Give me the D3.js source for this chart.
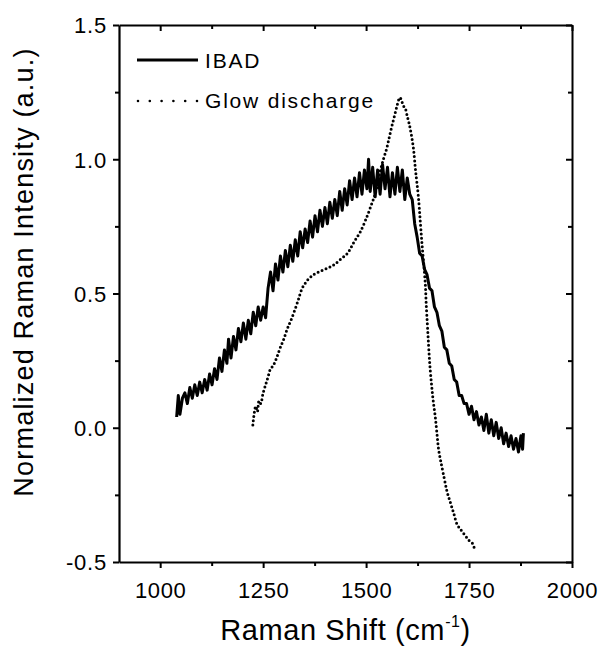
<!DOCTYPE html>
<html><head><meta charset="utf-8">
<script src="https://cdn.jsdelivr.net/npm/d3@7"></script>
<style>
body{margin:0;background:#fff;}
svg{display:block;font-family:"Liberation Sans",Arial,sans-serif;}
</style></head>
<body>
<svg id="chart" width="600" height="646"></svg>
<script>
const ibadX = [1040,1044,1048,1054,1060,1066,1072,1078,1084,1090,1096,1102,1108,1114,1120,1126,1132,1138,1144,1150,1156,1162,1166,1172,1178,1184,1190,1196,1202,1208,1214,1220,1226,1232,1238,1244,1250,1256,1262,1268,1274,1280,1286,1292,1298,1304,1310,1316,1322,1328,1334,1340,1346,1352,1358,1364,1370,1376,1382,1388,1394,1400,1406,1412,1418,1424,1430,1436,1442,1448,1454,1460,1466,1472,1478,1484,1490,1496,1502,1506,1510,1516,1522,1528,1534,1540,1546,1552,1558,1564,1570,1576,1582,1588,1594,1600,1606,1612,1618,1624,1630,1636,1642,1648,1654,1660,1666,1672,1678,1684,1690,1696,1702,1708,1714,1720,1726,1732,1738,1744,1750,1756,1762,1768,1774,1780,1786,1792,1798,1804,1810,1816,1822,1828,1834,1840,1846,1852,1858,1864,1870,1876,1880,1882];
const ibadY = [0.04,0.12,0.05,0.11,0.13,0.09,0.15,0.11,0.16,0.12,
0.17,0.13,0.18,0.14,0.20,0.16,0.22,0.18,0.26,0.21,
0.29,0.24,0.33,0.26,0.34,0.29,0.37,0.32,0.39,0.33,
0.40,0.35,0.43,0.38,0.45,0.40,0.45,0.41,0.52,0.58,
0.51,0.61,0.55,0.64,0.58,0.66,0.60,0.68,0.62,0.70,
0.64,0.73,0.67,0.74,0.69,0.77,0.71,0.79,0.73,0.81,
0.75,0.82,0.76,0.84,0.78,0.85,0.79,0.88,0.81,0.89,
0.83,0.92,0.85,0.93,0.86,0.95,0.87,0.96,0.89,1.00,
0.88,0.97,0.86,0.96,0.87,0.98,0.89,0.97,0.86,0.95,
0.87,0.97,0.88,0.96,0.85,0.93,0.87,0.85,
0.76,0.71,0.65,0.64,0.59,0.57,0.52,0.51,0.45,0.43,
0.38,0.36,0.30,0.29,0.24,0.23,0.18,0.17,0.12,0.12,
0.09,0.09,0.05,0.08,0.03,0.06,0.01,0.04,-0.01,0.05,
-0.02,0.03,-0.03,0.02,-0.04,0.00,-0.06,-0.02,-0.07,-0.03,
-0.08,-0.04,-0.09,-0.03,-0.08,-0.02];
const glowX = [1225,1228,1232,1236,1240,1244,1250,1256,1262,1268,1274,1280,1285,1292,1300,1309,1320,1334,1345,1358,1372,1385,1400,1414,1425,1440,1455,1470,1486,1503,1515,1522,1528,1535,1542,1550,1556,1562,1567,1572,1577,1582,1586,1590,1595,1600,1605,1610,1615,1620,1627,1632,1636,1640,1644,1646,1649,1652,1655,1659,1663,1668,1672,1676,1682,1690,1697,1705,1713,1721,1730,1740,1750,1758,1763];
const glowY = [0.01,0.05,0.08,0.06,0.10,0.09,0.13,0.16,0.19,0.22,0.23,0.25,0.27,0.30,0.33,0.37,0.41,0.47,0.52,0.55,0.57,0.58,0.59,0.60,0.61,0.63,0.65,0.69,0.73,0.79,0.84,0.87,0.91,0.96,1.00,1.04,1.08,1.12,1.15,1.18,1.21,1.23,1.22,1.20,1.19,1.16,1.13,1.09,1.04,0.96,0.86,0.76,0.68,0.61,0.53,0.46,0.38,0.30,0.23,0.16,0.10,0.04,-0.02,-0.08,-0.13,-0.19,-0.24,-0.28,-0.32,-0.36,-0.38,-0.40,-0.42,-0.43,-0.45];
const xMajor = [1000,1250,1500,1750,2000];
const xMinor = [1125,1375,1625,1875];
const yMajor = [-0.5,0.0,0.5,1.0,1.5];
const yMinor = [-0.25,0.25,0.75,1.25];
const seriesNames = ["IBAD","Glow discharge"];
const xTitle = "Raman Shift (cm";
const xTitleSup = "-1";
const yTitle = "Normalized Raman Intensity (a.u.)";

const svg = d3.select("#chart");
const L = 119, R = 572, T = 25, B = 562;
const x = d3.scaleLinear().domain([900,2000]).range([L,R]);
const y = d3.scaleLinear().domain([-0.5,1.5]).range([B,T]);

// series
const ibad = ibadX.map((d,i)=>[d,ibadY[i]]);
const glow = glowX.map((d,i)=>[d,glowY[i]]);
const line = d3.line().x(d=>x(d[0])).y(d=>y(d[1]));
svg.append("path").attr("d", line(ibad)).attr("fill","none").attr("stroke","#000")
  .attr("stroke-width",3).attr("stroke-linejoin","round");
svg.append("path").attr("d", line.curve(d3.curveCatmullRom)(glow)).attr("fill","none").attr("stroke","#000")
  .attr("stroke-width",3).attr("stroke-linecap","round").attr("stroke-dasharray","0 4.3");

// axes
function styleAxis(g, w){
  g.select(".domain").attr("stroke","#000").attr("stroke-width",w);
  g.selectAll(".tick line").attr("stroke","#000").attr("stroke-width",2);
}
const fmtX = d3.format("d"), fmtY = d3.format(".1f");
const gB = svg.append("g").attr("transform",`translate(0,${B})`)
  .call(d3.axisBottom(x).tickValues(xMajor).tickSize(6).tickSizeOuter(0).tickPadding(14).tickFormat(fmtX));
styleAxis(gB,2.2);
gB.selectAll("text").attr("font-size",22).attr("fill","#000").attr("font-family","Liberation Sans, Arial, sans-serif").attr("letter-spacing","0.6px");
const gBm = svg.append("g").attr("transform",`translate(0,${B})`)
  .call(d3.axisBottom(x).tickValues(xMinor).tickSize(4).tickSizeOuter(0).tickFormat(""));
styleAxis(gBm,0); gBm.select(".domain").remove();

const gL = svg.append("g").attr("transform",`translate(${L},0)`)
  .call(d3.axisLeft(y).tickValues(yMajor).tickSize(6).tickSizeOuter(0).tickPadding(6).tickFormat(d=>fmtY(d).replace("−","-")));
styleAxis(gL,2.2);
gL.selectAll("text").attr("font-size",22).attr("fill","#000").attr("font-family","Liberation Sans, Arial, sans-serif").attr("letter-spacing","0.8px").attr("dy","0.36em");
const gLm = svg.append("g").attr("transform",`translate(${L},0)`)
  .call(d3.axisLeft(y).tickValues(yMinor).tickSize(4).tickSizeOuter(0).tickFormat(""));
styleAxis(gLm,0); gLm.select(".domain").remove();

// top (inward ticks)
const gT = svg.append("g").attr("transform",`translate(0,${T})`)
  .call(d3.axisBottom(x).tickValues(xMajor).tickSize(6).tickSizeOuter(0).tickFormat(""));
styleAxis(gT,2);
const gTm = svg.append("g").attr("transform",`translate(0,${T})`)
  .call(d3.axisBottom(x).tickValues(xMinor).tickSize(4).tickSizeOuter(0).tickFormat(""));
styleAxis(gTm,0); gTm.select(".domain").remove();
// right (inward ticks)
const gR = svg.append("g").attr("transform",`translate(${R},0)`)
  .call(d3.axisLeft(y).tickValues(yMajor).tickSize(6).tickSizeOuter(0).tickFormat(""));
styleAxis(gR,2);
const gRm = svg.append("g").attr("transform",`translate(${R},0)`)
  .call(d3.axisLeft(y).tickValues(yMinor).tickSize(4).tickSizeOuter(0).tickFormat(""));
styleAxis(gRm,0); gRm.select(".domain").remove();

// titles
const xt = svg.append("text").attr("x",(L+R)/2).attr("y",640).attr("text-anchor","middle")
  .attr("font-size",29).attr("fill","#000").attr("letter-spacing","0.6px");
xt.append("tspan").text(xTitle);
xt.append("tspan").text(xTitleSup).attr("font-size",16).attr("dy",-13);
xt.append("tspan").text(")").attr("dy",13);

svg.append("text").attr("transform",`translate(33,272) rotate(-90)`).attr("text-anchor","middle")
  .attr("font-size",27).attr("fill","#000").attr("letter-spacing","1.2px").text(yTitle);

// legend
const lg = svg.append("g");
lg.append("line").attr("x1",137).attr("x2",198).attr("y1",60).attr("y2",60)
  .attr("stroke","#000").attr("stroke-width",2.8);
lg.append("line").attr("x1",138).attr("x2",198).attr("y1",101).attr("y2",101)
  .attr("stroke","#000").attr("stroke-width",2.6).attr("stroke-linecap","round").attr("stroke-dasharray","0 11.8");
lg.selectAll("text.leg").data(seriesNames).enter().append("text")
  .attr("x",205).attr("y",(d,i)=>[68,108][i]).attr("font-size",21).attr("letter-spacing","1.8px")
  .attr("fill","#000").text(d=>d);
</script>
</body></html>
